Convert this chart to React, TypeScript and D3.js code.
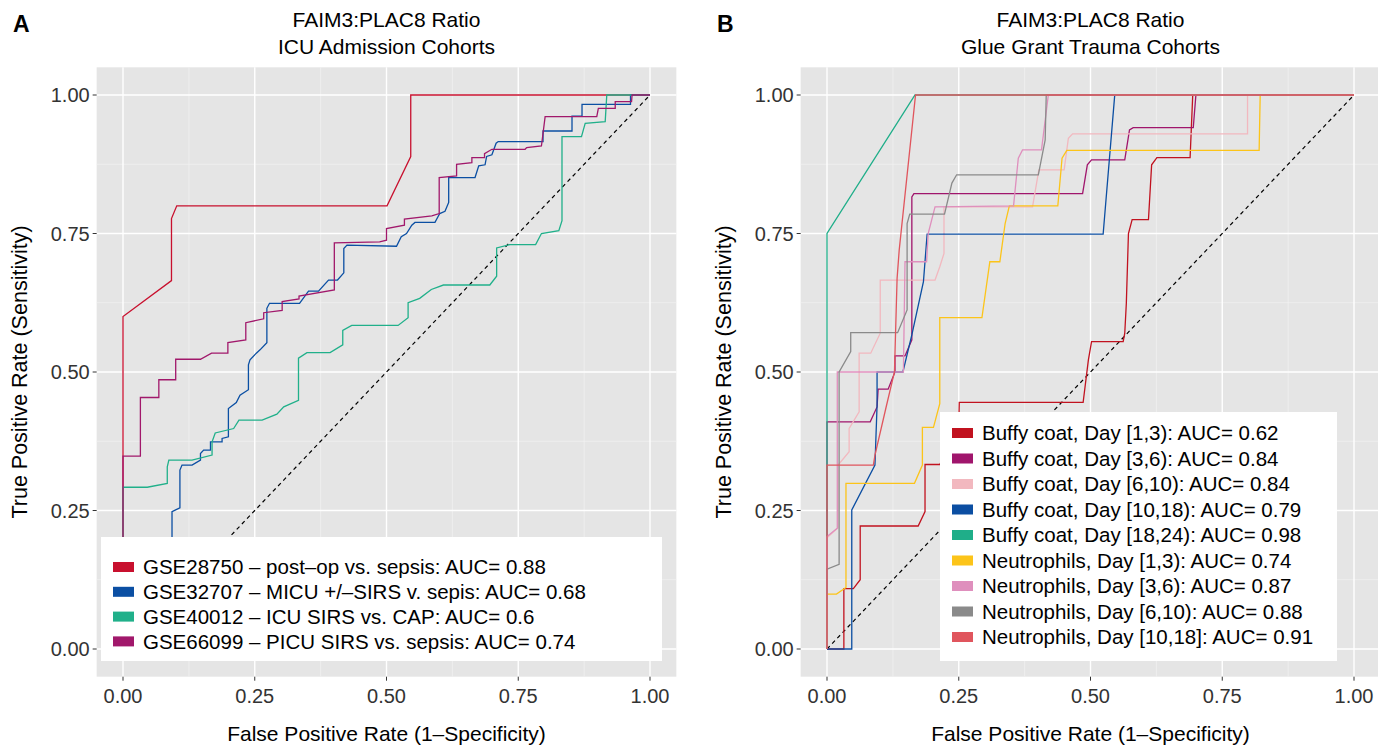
import React from 'react';
import * as d3 from 'd3';

// ROC points: [false positive rate, true positive rate]
const icuNames = [
  'GSE28750 – post–op vs. sepsis: AUC= 0.88',
  'GSE32707 – MICU +/–SIRS v. sepis: AUC= 0.68',
  'GSE40012 – ICU SIRS vs. CAP: AUC= 0.6',
  'GSE66099 – PICU SIRS vs. sepsis: AUC= 0.74',
];
const icuColors = ['#c8102e', '#0b4fa3', '#20b08a', '#a1186b'];

const gse28750 = [[0, 0], [0, 0.6], [0.092, 0.665], [0.092, 0.777], [0.102, 0.8], [0.501, 0.8], [0.546, 0.889], [0.546, 1], [1, 1]];
const gse32707 = [[0, 0], [0.093, 0], [0.093, 0.248], [0.108, 0.255], [0.108, 0.323], [0.112, 0.332], [0.131, 0.332], [0.147, 0.341], [0.147, 0.353], [0.153, 0.359], [0.166, 0.359], [0.166, 0.374], [0.188, 0.374], [0.188, 0.38], [0.2, 0.383], [0.2, 0.434], [0.215, 0.445], [0.222, 0.458], [0.238, 0.468], [0.238, 0.513], [0.241, 0.522], [0.253, 0.534], [0.26, 0.54], [0.273, 0.553], [0.273, 0.615], [0.278, 0.624], [0.335, 0.624], [0.352, 0.646], [0.371, 0.646], [0.39, 0.666], [0.407, 0.666], [0.419, 0.679], [0.419, 0.723], [0.425, 0.729], [0.519, 0.727], [0.528, 0.744], [0.538, 0.75], [0.548, 0.765], [0.554, 0.77], [0.592, 0.77], [0.601, 0.786], [0.611, 0.79], [0.618, 0.806], [0.618, 0.851], [0.668, 0.851], [0.675, 0.872], [0.687, 0.874], [0.69, 0.889], [0.7, 0.892], [0.708, 0.913], [0.712, 0.916], [0.797, 0.916], [0.797, 0.935], [0.852, 0.935], [0.852, 0.962], [0.871, 0.962], [0.871, 0.983], [0.963, 0.983], [0.963, 1], [1, 1]];
const gse40012 = [[0, 0], [0, 0.292], [0.046, 0.292], [0.084, 0.299], [0.084, 0.329], [0.087, 0.341], [0.131, 0.341], [0.169, 0.35], [0.169, 0.374], [0.175, 0.39], [0.21, 0.398], [0.22, 0.413], [0.264, 0.413], [0.292, 0.424], [0.305, 0.437], [0.333, 0.449], [0.333, 0.525], [0.349, 0.535], [0.393, 0.535], [0.417, 0.549], [0.417, 0.575], [0.434, 0.584], [0.522, 0.584], [0.541, 0.598], [0.541, 0.625], [0.563, 0.633], [0.585, 0.649], [0.608, 0.657], [0.696, 0.657], [0.709, 0.673], [0.709, 0.724], [0.734, 0.73], [0.783, 0.73], [0.794, 0.75], [0.827, 0.755], [0.833, 0.773], [0.833, 0.925], [0.87, 0.925], [0.877, 0.949], [0.915, 0.952], [0.918, 1], [1, 1]];
const gse66099 = [[0, 0], [0, 0.348], [0.033, 0.348], [0.033, 0.454], [0.068, 0.454], [0.068, 0.486], [0.1, 0.486], [0.1, 0.523], [0.147, 0.523], [0.168, 0.534], [0.199, 0.534], [0.199, 0.553], [0.233, 0.558], [0.233, 0.589], [0.267, 0.596], [0.267, 0.607], [0.302, 0.611], [0.302, 0.627], [0.334, 0.632], [0.334, 0.637], [0.401, 0.648], [0.401, 0.733], [0.487, 0.735], [0.5, 0.738], [0.5, 0.759], [0.534, 0.765], [0.534, 0.776], [0.586, 0.782], [0.6, 0.786], [0.6, 0.851], [0.633, 0.854], [0.633, 0.875], [0.662, 0.878], [0.662, 0.887], [0.686, 0.887], [0.686, 0.894], [0.7, 0.902], [0.763, 0.902], [0.766, 0.905], [0.794, 0.908], [0.801, 0.961], [0.899, 0.961], [0.902, 0.976], [0.934, 0.976], [0.934, 0.988], [0.965, 0.988], [0.966, 1], [1, 1]];

const traumaNames = [
  'Buffy coat, Day [1,3): AUC= 0.62',
  'Buffy coat, Day [3,6): AUC= 0.84',
  'Buffy coat, Day [6,10): AUC= 0.84',
  'Buffy coat, Day [10,18): AUC= 0.79',
  'Buffy coat, Day [18,24): AUC= 0.98',
  'Neutrophils, Day [1,3): AUC= 0.74',
  'Neutrophils, Day [3,6): AUC= 0.87',
  'Neutrophils, Day [6,10): AUC= 0.88',
  'Neutrophils, Day [10,18]: AUC= 0.91',
];
const traumaColors = ['#c1121f', '#a0156c', '#f2b8bf', '#0b4ea2', '#1fae89', '#fcc419', '#df8fbd', '#8a8a8a', '#e0555d'];

const buffy1 = [[0, 0], [0.032, 0], [0.032, 0.109], [0.05, 0.109], [0.063, 0.125], [0.063, 0.222], [0.173, 0.222], [0.186, 0.248], [0.186, 0.333], [0.214, 0.333], [0.25, 0.4], [0.251, 0.445], [0.486, 0.445], [0.496, 0.522], [0.502, 0.555], [0.562, 0.555], [0.565, 0.57], [0.568, 0.624], [0.572, 0.75], [0.579, 0.775], [0.61, 0.775], [0.616, 0.874], [0.626, 0.887], [0.689, 0.887], [0.694, 1], [1, 1]];
const buffy3 = [[0, 0], [0, 0.41], [0.082, 0.41], [0.095, 0.437], [0.097, 0.469], [0.116, 0.469], [0.129, 0.5], [0.129, 0.529], [0.148, 0.529], [0.161, 0.558], [0.161, 0.816], [0.165, 0.822], [0.485, 0.822], [0.494, 0.874], [0.502, 0.883], [0.565, 0.883], [0.574, 0.937], [0.581, 0.941], [0.695, 0.941], [0.7, 1], [1, 1]];
const buffy6 = [[0, 0], [0, 0.201], [0.021, 0.219], [0.021, 0.332], [0.042, 0.356], [0.042, 0.398], [0.061, 0.428], [0.061, 0.534], [0.083, 0.534], [0.101, 0.57], [0.101, 0.666], [0.205, 0.666], [0.214, 0.69], [0.222, 0.714], [0.222, 0.798], [0.39, 0.798], [0.402, 0.865], [0.45, 0.865], [0.458, 0.922], [0.466, 0.93], [0.798, 0.93], [0.798, 1], [1, 1]];
const buffy10 = [[0, 0], [0.047, 0], [0.047, 0.251], [0.091, 0.332], [0.095, 0.44], [0.095, 0.5], [0.144, 0.5], [0.161, 0.567], [0.183, 0.663], [0.19, 0.749], [0.524, 0.749], [0.546, 1], [1, 1]];
const buffy18 = [[0, 0], [0, 0.75], [0.167, 1], [1, 1]];
const neut1 = [[0, 0], [0, 0.099], [0.018, 0.099], [0.036, 0.111], [0.036, 0.299], [0.166, 0.299], [0.181, 0.332], [0.181, 0.4], [0.202, 0.4], [0.214, 0.443], [0.214, 0.598], [0.294, 0.598], [0.309, 0.699], [0.328, 0.699], [0.338, 0.768], [0.346, 0.8], [0.438, 0.8], [0.446, 0.886], [0.455, 0.9], [0.82, 0.9], [0.822, 1], [1, 1]];
const neut3 = [[0, 0], [0, 0.203], [0.0195, 0.218], [0.0195, 0.5], [0.145, 0.5], [0.148, 0.699], [0.189, 0.699], [0.192, 0.75], [0.205, 0.798], [0.354, 0.8], [0.363, 0.886], [0.371, 0.901], [0.407, 0.901], [0.42, 1], [1, 1]];
const neut6 = [[0, 0], [0, 0.144], [0.023, 0.153], [0.023, 0.5], [0.045, 0.537], [0.045, 0.571], [0.134, 0.571], [0.152, 0.612], [0.152, 0.768], [0.157, 0.785], [0.223, 0.785], [0.237, 0.841], [0.246, 0.856], [0.401, 0.856], [0.414, 0.919], [0.416, 1], [1, 1]];
const neut10 = [[0, 0], [0, 0.332], [0.088, 0.332], [0.091, 0.35], [0.113, 0.44], [0.128, 0.5], [0.133, 0.669], [0.137, 0.72], [0.168, 1], [1, 1]];

const tickValues = [0, 0.25, 0.5, 0.75, 1];
const tickLabels = ['0.00', '0.25', '0.50', '0.75', '1.00'];
const minorValues = [0.125, 0.375, 0.625, 0.875];

const font = '"Liberation Sans", Arial, Helvetica, sans-serif';

function Panel({ x0, letter, title, subtitle, series, names, colors, legend }) {
  const x = d3.scaleLinear().domain([0, 1]).range([x0, x0 + 527]);
  const y = d3.scaleLinear().domain([0, 1]).range([649, 95]);
  const line = d3.line().x((d) => x(d[0])).y((d) => y(d[1]));
  const left = x(-0.05);
  const right = x(1.05);
  const top = y(1.05);
  const bottom = y(-0.05);
  const cx = (left + right) / 2;
  return (
    <g fontFamily={font}>
      <text x={x0 - 110} y={32} fontSize={23} fontWeight="bold">{letter}</text>
      <text x={cx} y={27} fontSize={21} textAnchor="middle">{title}</text>
      <text x={cx} y={54} fontSize={21} textAnchor="middle">{subtitle}</text>
      <rect x={left} y={top} width={right - left} height={bottom - top} fill="#e5e5e5" />
      {minorValues.map((v) => (
        <g key={'m' + v}>
          <line x1={x(v)} x2={x(v)} y1={top} y2={bottom} stroke="#f2f2f2" strokeWidth={0.7} />
          <line x1={left} x2={right} y1={y(v)} y2={y(v)} stroke="#f2f2f2" strokeWidth={0.7} />
        </g>
      ))}
      {tickValues.map((v, i) => (
        <g key={'t' + v}>
          <line x1={x(v)} x2={x(v)} y1={top} y2={bottom} stroke="#ffffff" strokeWidth={1.4} />
          <line x1={left} x2={right} y1={y(v)} y2={y(v)} stroke="#ffffff" strokeWidth={1.4} />
          <line x1={left - 4} x2={left} y1={y(v)} y2={y(v)} stroke="#333333" strokeWidth={1} />
          <line x1={x(v)} x2={x(v)} y1={bottom} y2={bottom + 4} stroke="#333333" strokeWidth={1} />
          <text x={left - 7} y={y(v)} dy="0.35em" fontSize={20} fill="#333333" textAnchor="end">{tickLabels[i]}</text>
          <text x={x(v)} y={bottom + 26} fontSize={20} fill="#333333" textAnchor="middle">{tickLabels[i]}</text>
        </g>
      ))}
      <line x1={x(0)} y1={y(0)} x2={x(1)} y2={y(1)} stroke="#000000" strokeWidth={1.2} strokeDasharray="4,3.5" />
      {series.map((s, i) => (
        <path key={names[i]} d={line(s)} fill="none" stroke={colors[i]} strokeWidth={1.3} />
      ))}
      <rect x={legend.x} y={legend.y} width={legend.w} height={legend.h} fill="#ffffff" />
      {names.map((n, i) => {
        const ry = legend.row0 + i * legend.step;
        return (
          <g key={'l' + n}>
            <rect x={legend.x + 12} y={ry - 5} width={21} height={10} fill={colors[i]} />
            <text x={legend.x + 42} y={ry} dy="0.35em" fontSize={20.5}>{n}</text>
          </g>
        );
      })}
      <text x={cx} y={741} fontSize={21} textAnchor="middle">False Positive Rate (1–Specificity)</text>
      <text transform={`translate(${x0 - 96},${(top + bottom) / 2}) rotate(-90)`} fontSize={21.5} textAnchor="middle">True Positive Rate (Sensitivity)</text>
    </g>
  );
}

export default function App() {
  return (
    <svg width={1378} height={747} style={{ position: 'absolute', left: 0, top: 0, background: '#ffffff' }}>
      <Panel
        x0={123}
        letter="A"
        title="FAIM3:PLAC8 Ratio"
        subtitle="ICU Admission Cohorts"
        series={[gse28750, gse32707, gse40012, gse66099]}
        names={icuNames}
        colors={icuColors}
        legend={{ x: 101, y: 537, w: 561, h: 124, row0: 567, step: 24.8 }}
      />
      <Panel
        x0={827}
        letter="B"
        title="FAIM3:PLAC8 Ratio"
        subtitle="Glue Grant Trauma Cohorts"
        series={[buffy1, buffy3, buffy6, buffy10, buffy18, neut1, neut3, neut6, neut10]}
        names={traumaNames}
        colors={traumaColors}
        legend={{ x: 940, y: 412, w: 397, h: 249, row0: 433, step: 25.5 }}
      />
    </svg>
  );
}
